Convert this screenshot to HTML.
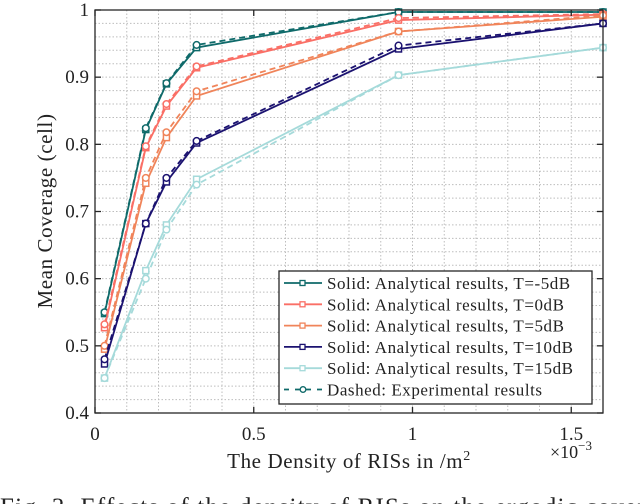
<!DOCTYPE html>
<html><head><meta charset="utf-8"><style>
html,body{margin:0;padding:0;background:#fff;width:640px;height:504px;overflow:hidden}
svg{display:block;font-family:"Liberation Serif",serif}
</style></head><body>
<svg id="chart" width="640" height="504" viewBox="0 0 640 504" xmlns="http://www.w3.org/2000/svg">
<g id="grid"></g>
<g id="series"></g>
<rect x="95" y="10" width="508" height="403" fill="none" stroke="#262626" stroke-width="1.3"/>
<g id="ticks"></g>
<text transform="translate(52,211) rotate(-90)" text-anchor="middle" font-size="21" letter-spacing="0.6" fill="#222">Mean Coverage (cell)</text>
<text x="349" y="468" text-anchor="middle" font-size="21" letter-spacing="0.6" fill="#222">The Density of RISs in /m<tspan dy="-8" font-size="14">2</tspan></text>
<text x="550" y="458" font-size="18" fill="#222">×10<tspan dy="-8" font-size="13">−3</tspan></text>
<g id="legend"></g>
<text x="0" y="515" font-size="25" letter-spacing="1.2" fill="#222">Fig. 3. Effects of the density of RISs on the ergodic cover</text>
</svg>
<script>
const xValues=[0.03,0.16,0.225,0.32,0.956,1.6];
const seriesNames=["T=-5dB","T=0dB","T=5dB","T=10dB","T=15dB"];
const seriesColors=["#0f6a6a","#fa6f66","#f0845a","#1b1270","#a5dada"];
const solidM5=[0.548,0.822,0.89,0.944,0.997,0.997];
const dashM5=[0.55,0.824,0.891,0.948,0.997,0.997];
const solid0=[0.527,0.795,0.857,0.914,0.985,0.993];
const dash0=[0.532,0.797,0.86,0.916,0.988,0.994];
const solid5=[0.495,0.742,0.81,0.872,0.968,0.99];
const dash5=[0.5,0.75,0.818,0.879,0.968,0.992];
const solid10=[0.473,0.682,0.744,0.802,0.942,0.98];
const dash10=[0.48,0.682,0.75,0.805,0.947,0.98];
const solid15=[0.452,0.612,0.68,0.748,0.903,0.944];
const dash15=[0.452,0.6,0.673,0.74,0.903,0.944];
const xTicks=[0,0.5,1,1.5];
const xTickLabels=["0","0.5","1","1.5"];
const yTicks=[0.4,0.5,0.6,0.7,0.8,0.9,1];
const yTickLabels=["0.4","0.5","0.6","0.7","0.8","0.9","1"];
const legendLabels=["Solid: Analytical results, T=-5dB","Solid: Analytical results, T=0dB","Solid: Analytical results, T=5dB","Solid: Analytical results, T=10dB","Solid: Analytical results, T=15dB","Dashed: Experimental results"];

const X0=95,X1=603,Y0=413,Y1=10;
const sx=v=>X0+(v/1.6)*(X1-X0);
const sy=v=>Y0-(v-0.4)/0.6*(Y0-Y1);
const NS="http://www.w3.org/2000/svg";
function mk(tag,attrs,parent){const e=document.createElementNS(NS,tag);for(const k in attrs)e.setAttribute(k,attrs[k]);parent.appendChild(e);return e;}
const grid=document.getElementById('grid');
for(let i=1;i<16;i++){const x=sx(i*0.1);
 const l=mk('line',{x1:x,x2:x,y1:Y1,y2:Y0,stroke:'#bdbdbd','stroke-width':1,'stroke-dasharray':'1.5 2'},grid);
 
 }
for(let i=1;i<30;i++){const y=sy(0.4+i*0.02);
 const l=mk('line',{x1:X0,x2:X1,y1:y,y2:y,stroke:'#bdbdbd','stroke-width':1,'stroke-dasharray':'1.5 2'},grid);
 
 }
const ticks=document.getElementById('ticks');
xTicks.forEach((v,i)=>{const x=sx(v);
 mk('line',{x1:x,x2:x,y1:Y0,y2:Y0-6,stroke:'#262626','stroke-width':1.3},ticks);
 mk('line',{x1:x,x2:x,y1:Y1,y2:Y1+6,stroke:'#262626','stroke-width':1.3},ticks);
 const t=mk('text',{x:x,y:440,'text-anchor':'middle','font-size':19,fill:'#222'},ticks);t.textContent=xTickLabels[i];
 
 });
yTicks.forEach((v,i)=>{const y=sy(v);
 mk('line',{x1:X0,x2:X0+6,y1:y,y2:y,stroke:'#262626','stroke-width':1.3},ticks);
 mk('line',{x1:X1,x2:X1-6,y1:y,y2:y,stroke:'#262626','stroke-width':1.3},ticks);
 const t=mk('text',{x:89,y:y+6,'text-anchor':'end','font-size':19,fill:'#222'},ticks);t.textContent=yTickLabels[i];
 
 });
const series=document.getElementById('series');
const solids=[solidM5,solid0,solid5,solid10,solid15];
const dashes=[dashM5,dash0,dash5,dash10,dash15];
solids.forEach((arr,si)=>{
 const c=seriesColors[si];
 const dp=dashes[si].map((v,i)=>sx(xValues[i])+','+sy(v)).join(' ');
 const d=mk('polyline',{points:dp,fill:'none',stroke:c,'stroke-width':1.8,'stroke-dasharray':'6 4'},series);
 
 
 const sp=arr.map((v,i)=>sx(xValues[i])+','+sy(v)).join(' ');
 const s=mk('polyline',{points:sp,fill:'none',stroke:c,'stroke-width':1.8},series);
 
 
 arr.forEach((v,i)=>{const m=mk('rect',{x:sx(xValues[i])-3,y:sy(v)-3,width:6,height:6,fill:'#fff',stroke:c,'stroke-width':1.5},series);
  
  });
 dashes[si].forEach((v,i)=>{const m=mk('circle',{cx:sx(xValues[i]),cy:sy(v),r:3.3,fill:'#fff',stroke:c,'stroke-width':1.5},series);
  
  });
});
const lg=document.getElementById('legend');
mk('rect',{x:279,y:271,width:313,height:133,fill:'#fff',stroke:'#262626','stroke-width':1.3},lg);
legendLabels.forEach((lab,i)=>{const y=283+i*21.3;const c=i<5?seriesColors[i]:seriesColors[0];
 if(i<5){mk('line',{x1:284,x2:322,y1:y,y2:y,stroke:c,'stroke-width':1.8},lg);
  mk('rect',{x:300,y:y-2.5,width:5,height:5,fill:'#fff',stroke:c,'stroke-width':1.3},lg);}
 else{mk('line',{x1:284,x2:322,y1:y,y2:y,stroke:c,'stroke-width':1.8,'stroke-dasharray':'5 6'},lg);
  mk('circle',{cx:303,cy:y,r:2.8,fill:'#fff',stroke:c,'stroke-width':1.3},lg);}
 const t=mk('text',{x:327,y:y+6,'font-size':17,'letter-spacing':0.55,fill:'#222'},lg);t.textContent=lab;
 
 });
</script>
</body></html>
